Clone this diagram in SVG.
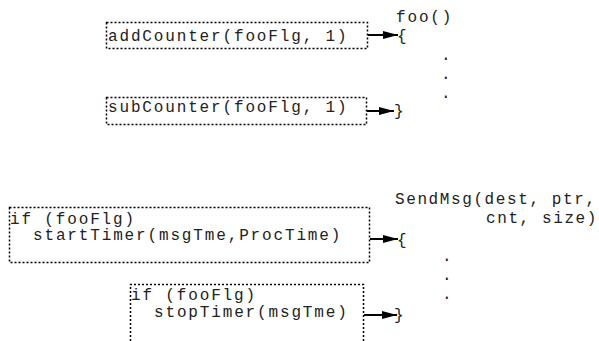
<svg xmlns="http://www.w3.org/2000/svg" width="599" height="341" viewBox="0 0 599 341">
<defs>
<style>
.t{font-family:"Liberation Mono","Courier New",monospace;font-size:16px;letter-spacing:1.85px;fill:#222;}
.s{letter-spacing:1.6px;}
.b{fill:none;stroke:#000;stroke-width:1.5;stroke-dasharray:2 2;}
.c{stroke:#000;stroke-width:2;fill:none;}
</style>
<marker id="ah" markerUnits="userSpaceOnUse" markerWidth="16" markerHeight="10" refX="15" refY="5" orient="auto">
<path d="M0,1 L15,5 L0,9 Z" fill="#000"/>
</marker>
</defs>
<rect width="599" height="341" fill="#fff"/>
<g id="add">
<rect class="b" x="106.5" y="22.5" width="261" height="26"/>
<text class="t" x="108" y="41">addCounter(fooFlg, 1)</text>
</g>
<g id="sub">
<rect class="b" x="106.5" y="97.5" width="260" height="27"/>
<text class="t" x="108" y="112">subCounter(fooFlg, 1)</text>
</g>
<g id="foo">
<text class="t" x="396" y="22">foo()</text>
<text class="t" x="397" y="41">{</text>
<text class="t" x="441" y="60">.</text>
<text class="t" x="441" y="79">.</text>
<text class="t" x="441" y="98">.</text>
<text class="t" x="394" y="116">}</text>
</g>
<g id="start">
<rect class="b" x="9.5" y="207.5" width="360" height="55"/>
<text class="t" x="10" y="224">if (fooFlg)</text>
<text class="t" x="33" y="240">startTimer(msgTme,ProcTime)</text>
</g>
<g id="stop">
<path class="b" d="M130.5,341 V284.5 H363.5 V341"/>
<text class="t" x="131" y="300">if (fooFlg)</text>
<text class="t" x="154" y="317">stopTimer(msgTme)</text>
</g>
<g id="send">
<text class="t s" x="395" y="204">SendMsg(dest, ptr,</text>
<text class="t s" x="486" y="223">cnt, size)</text>
<text class="t" x="397" y="245">{</text>
<text class="t" x="442" y="261">.</text>
<text class="t" x="442" y="280">.</text>
<text class="t" x="442" y="299">.</text>
<text class="t" x="394" y="320">}</text>
</g>
<g id="connectors">
<line class="c" x1="368" y1="35" x2="398" y2="35" marker-end="url(#ah)"/>
<line class="c" x1="367" y1="111" x2="394" y2="111" marker-end="url(#ah)"/>
<line class="c" x1="370" y1="239" x2="398" y2="239" marker-end="url(#ah)"/>
<line class="c" x1="364" y1="315" x2="397" y2="315" marker-end="url(#ah)"/>
</g>
</svg>
